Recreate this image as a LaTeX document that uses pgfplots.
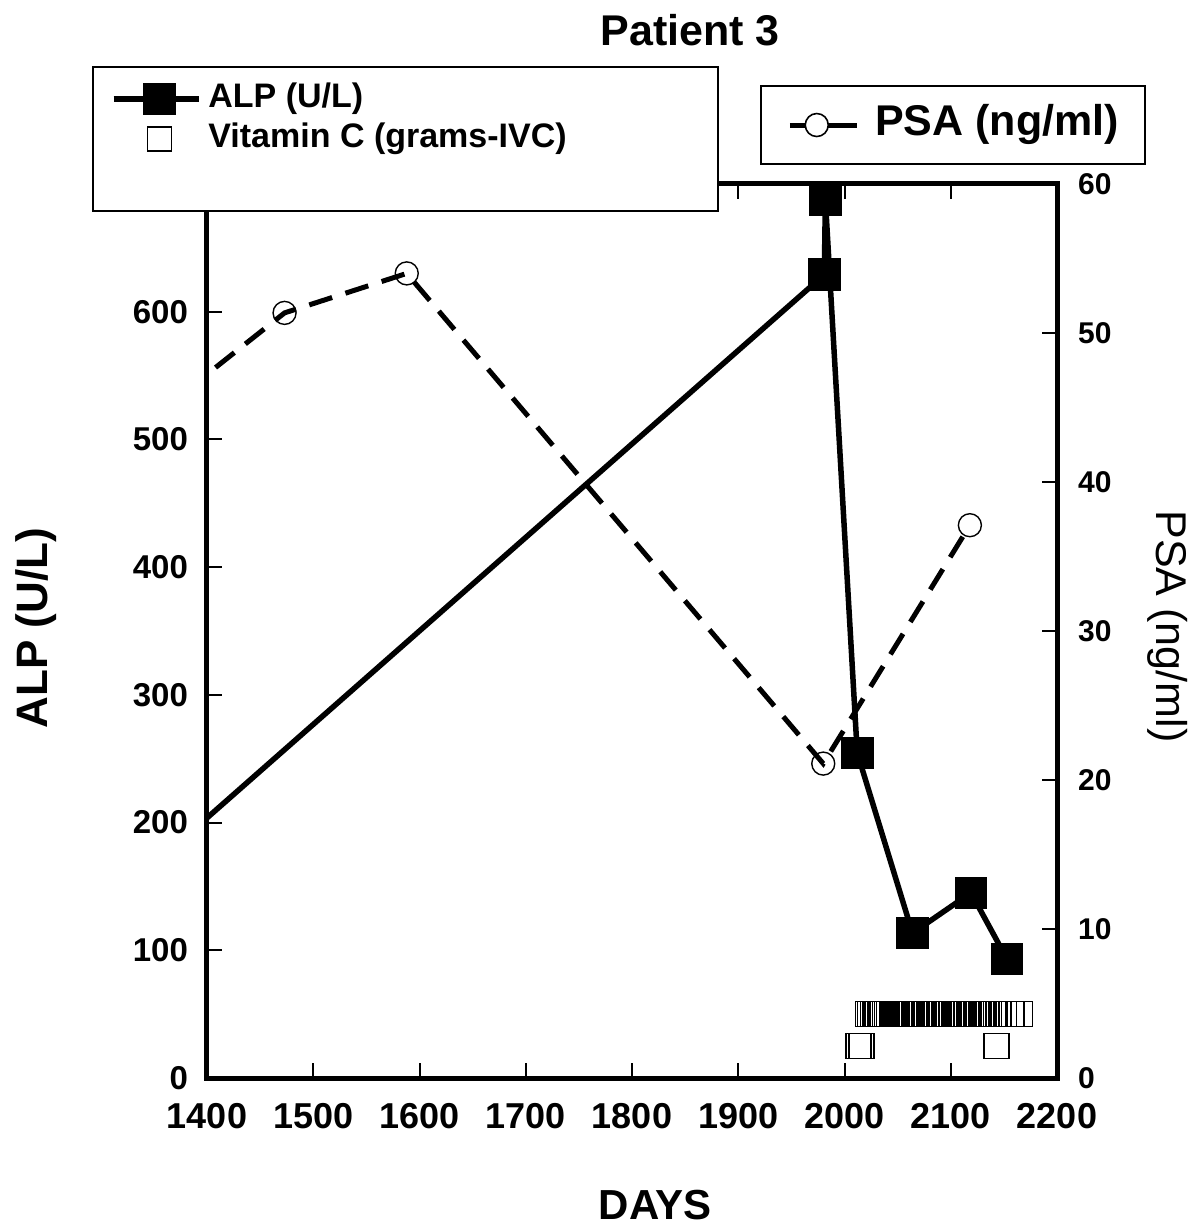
\documentclass[border=0pt]{standalone}
\usepackage{fontspec}
\setmainfont{Liberation Sans}
\usepackage{pgfplots}
\pgfplotsset{compat=1.18}

\pgfplotsset{
  common/.style={
    width=425pt, height=447pt, scale only axis,
    xmin=1400, xmax=2200,
    tick align=inside, major tick length=7.5pt,
    axis line style={line width=2.5pt},
    major tick style={line width=1pt, black},
    /pgf/number format/assume math mode=true,
    /pgf/number format/1000 sep={},
  },
}

\begin{document}
\begin{tikzpicture}
\useasboundingbox (-103.5pt,-74pt) rectangle (495.5pt,539pt);

% right axis: PSA
\begin{axis}[common,
  ymin=0, ymax=60,
  axis x line=none, axis y line*=right,
  ytick={0,10,...,60},
  yticklabel style={font=\bfseries\fontsize{15}{15}\selectfont, xshift=7pt},
  ylabel={PSA (ng/ml)},
  ylabel style={at={(axis description cs:1.13,0.505)}, anchor=center, rotate=180,
    font=\fontsize{21.5}{21.5}\selectfont},
  legend style={at={(axis description cs:0.6509,1.1107)}, anchor=north west,
    draw=black, line width=1pt, fill=white, inner xsep=13pt, inner ysep=9.75pt,
    font=\bfseries\fontsize{21.5}{21.5}\selectfont,
    nodes={inner sep=0pt, text height=15pt, text depth=4.5pt}, column sep=8pt},
]
\addplot[black, line width=2.5pt, dash pattern=on 12pt off 7pt,
  mark=o, mark size=5.75pt, mark options={solid, line width=0.7pt},
  legend image code/.code={
    \draw[solid, line width=2.5pt] (0pt,0pt) -- (33.5pt,0pt);
    \draw[solid, line width=0.8pt, fill=white] (13.5pt,0pt) circle (5.75pt);}]
  coordinates {(1380,46.1) (1473,51.35) (1588,54.0) (1980,21.1) (2118,37.1)};
\addlegendentry{PSA (ng/ml)}
\end{axis}

% left axis: ALP and vitamin C
\begin{axis}[common,
  ymin=0, ymax=700,
  xtick={1400,1500,...,2200}, ytick={0,100,...,600},
  ytick pos=left,
  xticklabel style={font=\bfseries\fontsize{18}{18}\selectfont, yshift=-9pt},
  yticklabel style={font=\bfseries\fontsize{16.5}{16.5}\selectfont, xshift=-6pt},
  title={Patient 3},
  title style={at={(axis description cs:0.5685,1.159)}, anchor=center,
    font=\bfseries\fontsize{21.5}{21.5}\selectfont},
  xlabel={DAYS},
  xlabel style={at={(axis description cs:0.5273,-0.142)}, anchor=center,
    font=\bfseries\fontsize{21}{21}\selectfont},
  ylabel={ALP (U/L)},
  ylabel style={at={(axis description cs:-0.2013,0.503)}, anchor=center,
    font=\bfseries\fontsize{22}{22}\selectfont},
  legend cell align=left,
  legend style={at={(axis description cs:-0.1354,1.132)}, anchor=north west,
    draw=black, line width=1pt, fill=white, inner xsep=9pt, inner ysep=6pt,
    font=\bfseries\fontsize{17}{17}\selectfont,
    nodes={inner sep=0pt, text height=14.5pt, text depth=5.5pt}, column sep=3.5pt},
]
\addplot[black, line width=2.75pt, mark=square*, mark size=6.75pt,
  mark options={solid},
  legend image code/.code={
    \draw[solid, line width=2.75pt] (0pt,0pt) -- (42.5pt,0pt);
    \fill (16.25pt,-6.5pt) rectangle (29.75pt,6.5pt);}]
  coordinates {(1380,189) (1981,629) (1982,687.5) (2012,254.5) (2064,113.5)
    (2119,145) (2153,93)};
\addlegendentry{ALP (U/L)}

\addplot[black, only marks, mark=square, mark size=6.25pt,
  mark options={line width=0.8pt},
  legend image code/.code={
    \path (0pt,0pt) (42.5pt,0pt);
    \draw[solid, line width=0.8pt] (17pt,-6pt) rectangle (29pt,6pt);}]
  coordinates {
    (2013,25) (2016,25) (2143,25)
    (2022,50) (2024,50) (2027,50) (2029,50) (2031,50) (2034,50) (2036,50)
    (2038,50) (2040,50) (2042,50) (2045,50) (2047,50) (2049,50) (2052,50)
    (2054,50) (2056,50) (2059,50) (2061,50) (2063,50) (2066,50) (2068,50)
    (2070,50) (2073,50) (2075,50) (2077,50) (2080,50) (2082,50) (2084,50)
    (2087,50) (2089,50) (2091,50) (2094,50) (2096,50) (2098,50) (2101,50)
    (2103,50) (2105,50) (2108,50) (2110,50) (2112,50) (2115,50) (2117,50)
    (2119,50) (2122,50) (2124,50) (2126,50) (2129,50) (2131,50) (2133,50)
    (2136,50) (2140,50) (2145,50) (2150,50) (2157,50) (2165,50)};
\addlegendentry{\makebox[246pt][l]{Vitamin C (grams-IVC)}}

\addlegendimage{empty legend}
\addlegendentry{}
\end{axis}
\end{tikzpicture}
\end{document}
